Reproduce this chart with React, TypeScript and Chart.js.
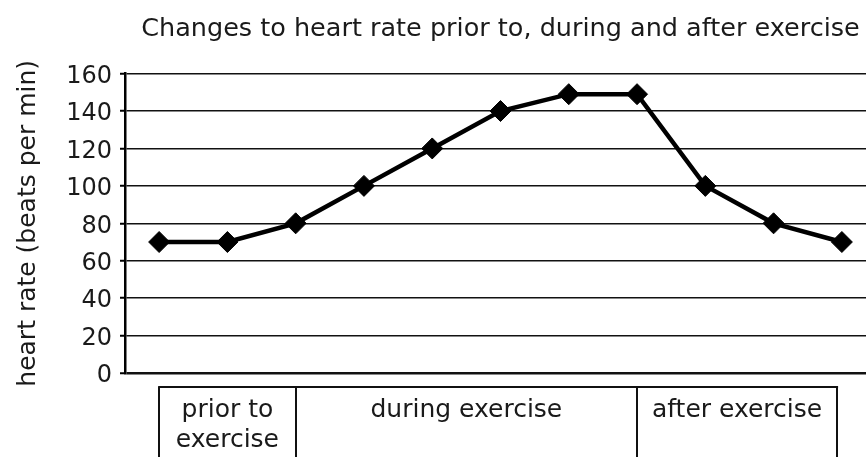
import React, { useEffect, useRef } from "react";
import { Chart, registerables } from "chart.js";

Chart.register(...registerables);

// ---- data ----
const timePoints = ["1", "2", "3", "4", "5", "6", "7", "8", "9", "10", "11"];
const heartRate = [70, 70, 80, 100, 120, 140, 149, 149, 100, 80, 70];
const yMin = 0;
const yMax = 160;
const yStep = 20;
const titleText = "Changes to heart rate prior to, during and after exercise";
const yAxisTitle = "heart rate (beats per min)";
// phases below the axis, in category-index units
const phaseLabels = [["prior to", "exercise"], ["during exercise"], ["after exercise"]];
const phaseStart = [0, 2, 7];
const phaseEnd = [2, 7, 9.93];

const FONT = "'DejaVu Sans', 'Liberation Sans', sans-serif";
const INK = "#1a1a1a";

const phasePlugin = {
  id: "phaseBoxes",
  afterDraw(chart: any) {
    const { ctx, chartArea } = chart;
    const x = chart.scales.x;
    const top = chartArea.bottom + 14;
    const bottom = chart.height + 4;
    ctx.save();
    ctx.strokeStyle = "#111";
    ctx.lineWidth = 2;
    const xs0 = x.getPixelForValue(phaseStart[0]);
    const xsN = x.getPixelForValue(phaseEnd[phaseEnd.length - 1]);
    ctx.beginPath();
    ctx.moveTo(xs0 - 1, top);
    ctx.lineTo(xsN + 1, top);
    const bounds = [phaseStart[0], ...phaseEnd];
    bounds.forEach((b) => {
      const px = Math.round(x.getPixelForValue(b));
      ctx.moveTo(px, top);
      ctx.lineTo(px, bottom);
    });
    ctx.stroke();
    ctx.fillStyle = INK;
    ctx.font = `25px ${FONT}`;
    ctx.textAlign = "center";
    ctx.textBaseline = "alphabetic";
    phaseLabels.forEach((lines, i) => {
      const cx = (x.getPixelForValue(phaseStart[i]) + x.getPixelForValue(phaseEnd[i])) / 2;
      lines.forEach((ln, j) => {
        ctx.fillText(ln, cx, top + 30 + j * 30);
      });
    });
    ctx.restore();
  },
};

export default function App() {
  const canvasRef = useRef<HTMLCanvasElement | null>(null);

  useEffect(() => {
    const canvas = canvasRef.current;
    if (!canvas) return;
    const chart = new Chart(canvas, {
      type: "line",
      data: {
        labels: timePoints,
        datasets: [
          {
            data: heartRate,
            borderColor: "#000",
            borderWidth: 4.5,
            pointStyle: "rectRot",
            pointRadius: 10.5,
            pointBackgroundColor: "#000",
            pointBorderColor: "#000",
            pointBorderWidth: 1,
            tension: 0,
            clip: false as any,
          },
        ],
      },
      options: {
        responsive: true,
        maintainAspectRatio: false,
        animation: false,
        devicePixelRatio: 1,
        // the canvas is wider than the picture: the plot area continues past the right edge
        layout: { autoPadding: false, padding: { left: 0, right: 0, top: 0, bottom: 84 } },
        plugins: {
          legend: { display: false },
          tooltip: { enabled: false },
          title: {
            display: true,
            text: titleText,
            fullSize: false,
            color: INK,
            font: { family: FONT, size: 25.5, weight: "normal" },
            padding: { top: 14, bottom: 29 },
          },
        },
        scales: {
          x: {
            type: "category",
            display: false,
            offset: true,
          },
          y: {
            min: yMin,
            max: yMax,
            afterFit(scale: any) {
              scale.width = 125;
            },
            ticks: {
              stepSize: yStep,
              color: INK,
              padding: 8,
              labelOffset: 3,
              font: { family: FONT, size: 24 },
            },
            grid: {
              color: "#111",
              lineWidth: (c: any) => (c.tick && c.tick.value === 0 ? 2.5 : 1.5),
              drawTicks: true,
              tickLength: 5,
              tickColor: "#000",
              tickWidth: 2,
            },
            border: { display: true, color: "#000", width: 2.5 },
            title: {
              display: true,
              text: yAxisTitle,
              color: INK,
              font: { family: FONT, size: 25 },
              padding: { top: 13, bottom: 0 },
            },
          },
        },
      },
      plugins: [phasePlugin],
    });
    return () => chart.destroy();
  }, []);

  return (
    <div
      style={{
        position: "fixed",
        left: 0,
        top: 0,
        width: 866,
        height: 457,
        overflow: "hidden",
        background: "#fff",
      }}
    >
      <div style={{ position: "relative", width: 876, height: 457 }}>
        <canvas ref={canvasRef} />
      </div>
    </div>
  );
}
